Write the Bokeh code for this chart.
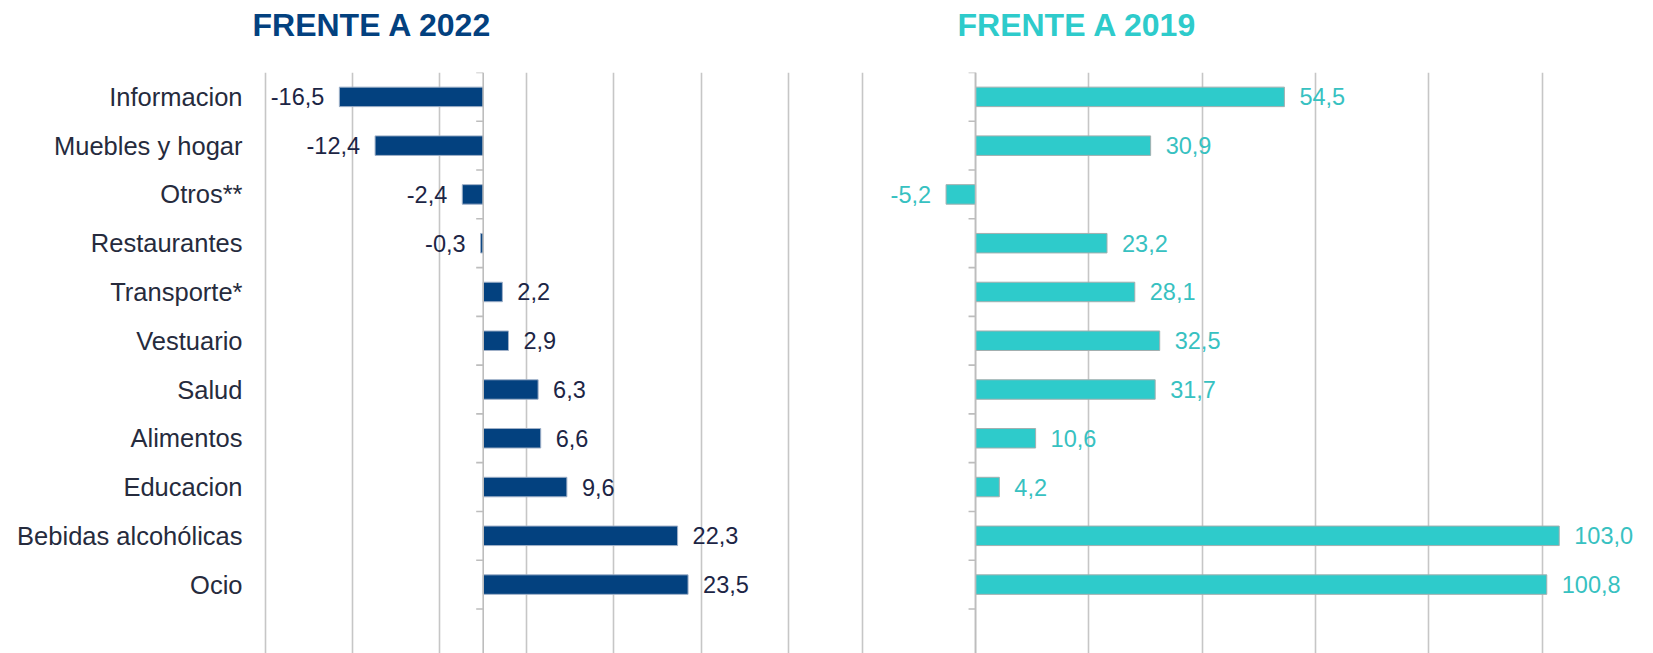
from bokeh.plotting import figure
from bokeh.layouts import row, column
from bokeh.models import ColumnDataSource, Range1d, FixedTicker, Grid, Span
from bokeh.core.properties import value
from bokeh.embed import file_html
from bokeh.resources import INLINE

# ---- data ----
categories = ["Informacion", "Muebles y hogar", "Otros**", "Restaurantes", "Transporte*",
              "Vestuario", "Salud", "Alimentos", "Educacion", "Bebidas alcohólicas", "Ocio"]
vs_2022 = [-16.5, -12.4, -2.4, -0.3, 2.2, 2.9, 6.3, 6.6, 9.6, 22.3, 23.5]
vs_2019 = [54.5, 30.9, -5.2, 23.2, 28.1, 32.5, 31.7, 10.6, 4.2, 103.0, 100.8]
left_grid_ticks = [-25, -15, -5, 5, 15, 25, 35]
right_grid_ticks = [-20, 0, 20, 40, 60, 80, 100]
title_left = "FRENTE A 2022"
title_right = "FRENTE A 2019"

# ---- style ----
NAVY = "#03417F"
TEAL = "#2ECBCB"
TEAL_TXT = "#37C1C1"
LABEL_C = "#262B3D"
DLABEL_C = "#1C2545"
GRID_C = "#C6C6C6"
FONT = "Liberation Sans"
W = 1653
H = 653
TOP = 72
ROW_PX = 48.77
BAR_H = 0.40

n = len(categories)
ypos = list(range(n))
chart_h = H - TOP
y_bottom = -0.5 + chart_h / ROW_PX


def fmt(v):
    return f"{v:.1f}".replace(".", ",")


def build(vals, x_start, px_per_unit, width, border_left, frame_w, bar_color, bar_line,
          txt_color, grid_ticks, show_labels):
    x_end = x_start + frame_w / px_per_unit
    p = figure(width=width, height=chart_h, output_backend="svg", toolbar_location=None,
               x_range=Range1d(x_start, x_end), y_range=Range1d(y_bottom, -0.5),
               x_axis_location=None, y_axis_location="left" if show_labels else None,
               min_border_left=border_left, min_border_right=width - border_left - frame_w,
               min_border_top=0, min_border_bottom=0)
    p.outline_line_color = None
    p.background_fill_color = "white"
    p.border_fill_color = "white"
    for g in p.grid:
        g.visible = False
    p.add_layout(Grid(dimension=0, ticker=FixedTicker(ticks=grid_ticks),
                      grid_line_color=GRID_C, grid_line_width=1.6))
    p.add_layout(Span(location=0, dimension="height", line_color="#BDBDBD", line_width=1.6))

    # category boundary tick marks on the zero axis
    bounds = [i - 0.5 for i in range(n + 1)]
    tick_len = 7 / px_per_unit
    p.segment(x0=[0] * len(bounds), x1=[-tick_len] * len(bounds), y0=bounds, y1=bounds,
              line_color="#BDBDBD", line_width=1.6)

    src = ColumnDataSource(dict(y=ypos, v=vals))
    p.hbar(y="y", left=0, right="v", height=BAR_H, source=src,
           fill_color=bar_color, line_color=bar_line, line_width=1)

    pos = [i for i, v in enumerate(vals) if v >= 0]
    neg = [i for i, v in enumerate(vals) if v < 0]
    for idxs, align, off in ((pos, "left", 15), (neg, "right", -15)):
        s = ColumnDataSource(dict(x=[vals[i] for i in idxs], y=[ypos[i] for i in idxs],
                                  t=[fmt(vals[i]) for i in idxs]))
        p.text(x="x", y="y", text="t", source=s, x_offset=off, text_align=align,
               text_baseline="middle", text_font=value(FONT), text_font_size="23.5px",
               text_color=txt_color)

    if show_labels:
        ax = p.yaxis[0]
        ax.ticker = FixedTicker(ticks=ypos)
        ax.major_label_overrides = {i: c for i, c in enumerate(categories)}
        ax.axis_line_color = None
        ax.major_tick_line_color = None
        ax.minor_tick_line_color = None
        ax.major_tick_out = 0
        ax.major_tick_in = 0
        ax.major_label_standoff = 21
        ax.major_label_text_font = FONT
        ax.major_label_text_font_size = "25.5px"
        ax.major_label_text_color = LABEL_C
    return p


left = build(vs_2022, -25.2, 8.718, 820, 263, 527, NAVY, "#9FB0C8", DLABEL_C,
             left_grid_ticks, True)
right = build(vs_2019, -20.3, 5.667, 833, 40, 793, TEAL, "#A3AFAF", TEAL_TXT,
              right_grid_ticks, False)

# title strip (pixel-space figure)
head = figure(width=W, height=TOP, output_backend="svg", toolbar_location=None,
              x_range=Range1d(0, W), y_range=Range1d(TOP, 0),
              x_axis_location=None, y_axis_location=None,
              min_border_left=0, min_border_right=0, min_border_top=0, min_border_bottom=0)
head.outline_line_color = None
for g in head.grid:
    g.visible = False
hsrc = ColumnDataSource(dict(x=[252, 957], y=[24, 24], t=[title_left, title_right],
                             c=[NAVY, TEAL]))
head.text(x="x", y="y", text="t", text_color="c", source=hsrc, text_align="left",
          text_baseline="alphabetic", text_font=value(FONT), text_font_size="32px",
          text_font_style="bold")

layout = column(head, row(left, right))
open("out.html", "w").write(file_html(layout, INLINE))
